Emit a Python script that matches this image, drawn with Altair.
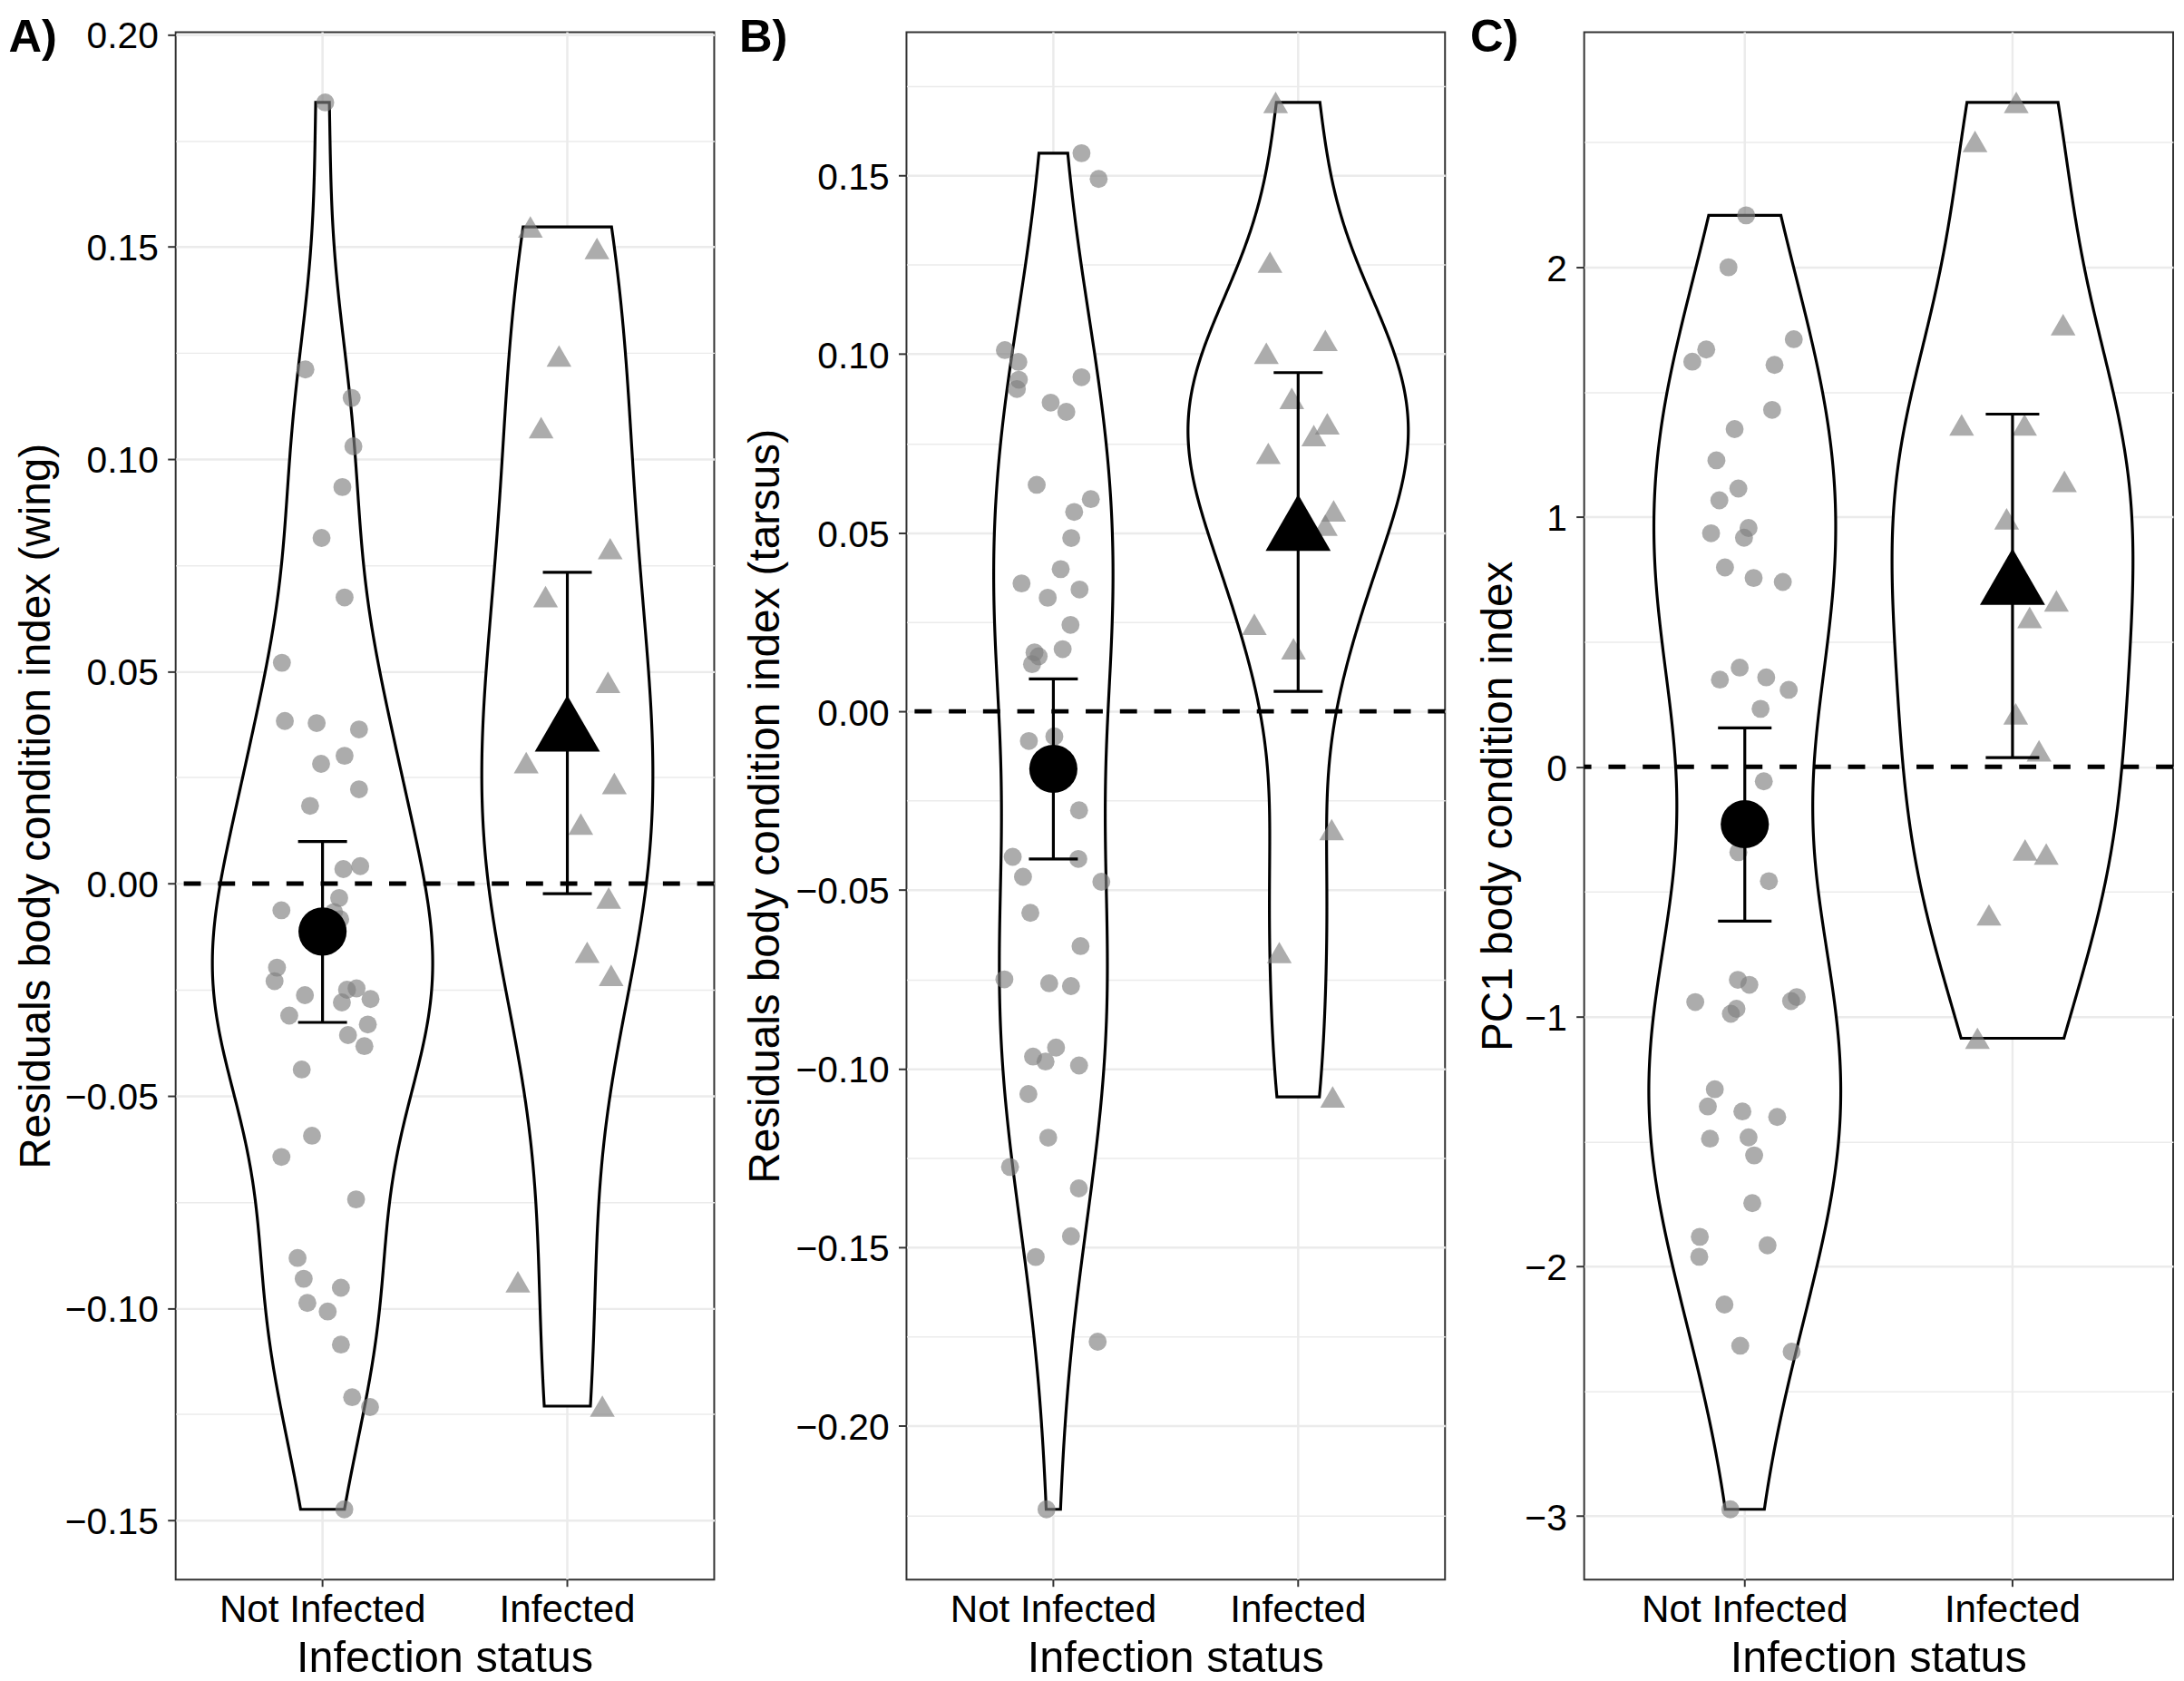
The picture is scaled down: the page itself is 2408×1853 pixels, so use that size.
import altair as alt
import pandas as pd

GROUPS = ["Not Infected", "Infected"]
POS = [1, 2]
XTITLE = "Infection status"

# ---------------- Panel A : wing ----------------
a_ni_val = [0.1840, 0.1211, 0.1144, 0.1030, 0.0934, 0.0814, 0.0674, 0.0520, 0.0383, 0.0378,
            0.0363, 0.0301, 0.0282, 0.0222, 0.0183, 0.0034, 0.0041, -0.0034, -0.0063, -0.0067,
            -0.0084, -0.0198, -0.0230, -0.0263, -0.0250, -0.0247, -0.0280, -0.0272, -0.0311, -0.0332,
            -0.0357, -0.0383, -0.0438, -0.0594, -0.0644, -0.0744, -0.0882, -0.0931, -0.0952, -0.0988,
            -0.1008, -0.1086, -0.1210, -0.1233, -0.1474]
a_ni_jit = [0.011, -0.070, 0.119, 0.126, 0.081, -0.004, 0.090, -0.166, -0.154, -0.024,
            0.149, 0.090, -0.006, 0.149, -0.051, 0.085, 0.154, 0.068, -0.168, 0.047,
            0.072, -0.186, -0.196, -0.072, 0.100, 0.139, 0.079, 0.196, -0.136, 0.185,
            0.104, 0.171, -0.085, -0.043, -0.168, 0.137, -0.102, -0.077, 0.075, -0.062,
            0.021, 0.075, 0.121, 0.194, 0.089]
a_in_val = [0.1547, 0.1496, 0.1243, 0.1074, 0.0789, 0.0676, 0.0474, 0.0285, 0.0236, 0.0140,
            -0.0034, -0.0162, -0.0216, -0.0938, -0.1231]
a_in_jit = [-0.151, 0.121, -0.034, -0.107, 0.175, -0.089, 0.166, -0.168, 0.192, 0.055,
            0.169, 0.081, 0.179, -0.202, 0.143]
a_mean = [-0.0113, 0.0355]
a_lo = [-0.0327, -0.0024]
a_hi = [0.0099, 0.0733]
a_major = [-0.15, -0.10, -0.05, 0.0, 0.05, 0.10, 0.15, 0.20]
a_minor = [-0.125, -0.075, -0.025, 0.025, 0.075, 0.125, 0.175]

# ---------------- Panel B : tarsus ----------------
b_ni_val = [0.1562, 0.1490, 0.1011, 0.0978, 0.0928, 0.0902, 0.0935, 0.0864, 0.0838, 0.0634,
            0.0594, 0.0558, 0.0485, 0.0398, 0.0358, 0.0341, 0.0318, 0.0242, 0.0165, 0.0154,
            0.0174, 0.0132, -0.0083, -0.0070, -0.0277, -0.0407, -0.0413, -0.0463, -0.0477, -0.0564,
            -0.0657, -0.0750, -0.0761, -0.0769, -0.0941, -0.0966, -0.0980, -0.0991, -0.1071, -0.1193,
            -0.1275, -0.1335, -0.1469, -0.1527, -0.1764, -0.2233]
b_ni_jit = [0.115, 0.185, -0.198, -0.143, -0.141, -0.149, 0.115, -0.011, 0.053, -0.068,
            0.153, 0.085, 0.073, 0.030, -0.130, 0.107, -0.023, 0.070, -0.077, -0.060,
            0.038, -0.087, -0.100, 0.004, 0.105, -0.166, 0.102, -0.124, 0.196, -0.094,
            0.111, -0.200, -0.017, 0.072, 0.011, -0.083, -0.032, 0.105, -0.102, -0.021,
            -0.177, 0.104, 0.072, -0.072, 0.181, -0.028]
b_in_val = [0.1704, 0.1257, 0.1002, 0.1038, 0.0876, 0.0805, 0.0772, 0.0722, 0.0561, 0.0521,
            0.0244, 0.0175, -0.0331, -0.0675, -0.1079]
b_in_jit = [-0.092, -0.115, -0.130, 0.111, -0.026, 0.119, 0.064, -0.122, 0.145, 0.111,
            -0.179, -0.019, 0.137, -0.077, 0.141]
b_mean = [-0.0161, 0.0502]
b_lo = [-0.0413, 0.0056]
b_hi = [0.0091, 0.0948]
b_major = [-0.20, -0.15, -0.10, -0.05, 0.0, 0.05, 0.10, 0.15]
b_minor = [-0.225, -0.175, -0.125, -0.075, -0.025, 0.025, 0.075, 0.125, 0.175]

# ---------------- Panel C : PC1 ----------------
c_ni_val = [2.208, 2.000, 1.671, 1.622, 1.712, 1.609, 1.429, 1.352, 1.227, 1.114,
            1.067, 0.956, 0.935, 0.917, 0.798, 0.756, 0.740, 0.397, 0.349, 0.358,
            0.308, 0.232, -0.058, -0.342, -0.458, -0.853, -0.873, -0.942, -0.922, -0.938,
            -0.969, -0.989, -1.291, -1.360, -1.380, -1.402, -1.489, -1.484, -1.556, -1.747,
            -1.882, -1.962, -1.916, -2.153, -2.318, -2.342, -2.973]
c_ni_jit = [0.005, -0.061, -0.144, -0.196, 0.183, 0.111, 0.102, -0.038, -0.106, -0.024,
            -0.095, 0.014, -0.126, -0.003, -0.074, 0.033, 0.142, -0.019, -0.093, 0.080,
            0.164, 0.059, 0.071, -0.024, 0.090, -0.026, 0.017, -0.185, 0.194, 0.173,
            -0.031, -0.052, -0.112, -0.138, -0.009, 0.121, -0.130, 0.014, 0.035, 0.028,
            -0.168, -0.170, 0.085, -0.076, -0.017, 0.175, -0.054]
c_in_val = [2.660, 2.504, 1.770, 1.369, 1.369, 1.143, 0.993, 0.664, 0.598, 0.212,
            0.064, -0.333, -0.349, -0.593, -1.087]
c_in_jit = [0.014, -0.140, 0.189, -0.190, 0.045, 0.194, -0.022, 0.164, 0.064, 0.012,
            0.099, 0.047, 0.126, -0.088, -0.131]
c_mean = [-0.230, 0.724]
c_lo = [-0.618, 0.037]
c_hi = [0.156, 1.412]
c_major = [-3, -2, -1, 0, 1, 2]
c_minor = [-2.5, -1.5, -0.5, 0.5, 1.5, 2.5]

PLOT_H = 1718
GRID = "#EBEBEB"
BORDER = "#333333"
FONT = "Liberation Sans"
PT_COLOR = "#7F7F7F"
LW = 3.2


def make_panel(ni_val, ni_jit, in_val, in_jit, means, los, his, ytitle, tag,
               major, minor, fmt, width, tag_x, title_x):
    pts = pd.DataFrame({
        "group": [GROUPS[0]] * len(ni_val) + [GROUPS[1]] * len(in_val),
        "pos": [POS[0]] * len(ni_val) + [POS[1]] * len(in_val),
        "jit": list(ni_jit) + list(in_jit),
        "val": list(ni_val) + list(in_val),
    })
    summ = pd.DataFrame({"group": GROUPS, "pos": POS, "mean": means, "lo": los, "hi": his})
    allv = list(ni_val) + list(in_val)
    vmin, vmax = min(allv), max(allv)
    r = vmax - vmin
    ysc = alt.Scale(domain=[vmin - 0.05 * r, vmax + 0.05 * r], nice=False, zero=False)
    xsc = alt.Scale(domain=[0.4, 2.6], nice=False, zero=False)

    minor_axis = alt.Axis(
        orient="left", values=minor, grid=True, gridColor=GRID, gridWidth=1.5,
        labels=False, ticks=False, domain=False, title=None,
    )
    main_axis = alt.Axis(
        orient="left", values=major, format=fmt, title=ytitle, grid=True, gridColor=GRID, gridWidth=2.5,
        tickSize=9, tickWidth=2, tickColor=BORDER, domain=False,
        labelFontSize=41, labelColor="black", labelPadding=10.5, labelOffset=3, labelFont=FONT,
        labelOverlap=False,
        titleFontSize=48, titleFontWeight="normal", titleColor="black", titleFont=FONT,
        titleX=title_x, titleY=PLOT_H / 2, titleAngle=270, titleAlign="center", titleBaseline="alphabetic",
    )

    sbase = alt.Chart(summ)

    # x "axis": category grid lines, ticks, labels and title
    xgrid = sbase.mark_rule(color=GRID, strokeWidth=2.5).encode(
        x=alt.X("pos:Q", scale=xsc, axis=None))
    xticks = sbase.mark_rule(color=BORDER, strokeWidth=2).encode(
        x=alt.X("pos:Q", scale=xsc, axis=None), y=alt.value(PLOT_H), y2=alt.value(PLOT_H + 8))
    xlabels = sbase.mark_text(font=FONT, fontSize=42.5, color="black", align="center",
                              baseline="alphabetic").encode(
        x=alt.X("pos:Q", scale=xsc, axis=None), y=alt.value(PLOT_H + 46.7), text="group:N")
    xtitle = (
        alt.Chart(alt.InlineData(values=[{"t": XTITLE}]))
        .mark_text(font=FONT, fontSize=49, color="black", align="center", baseline="alphabetic")
        .encode(x=alt.value(width / 2), y=alt.value(PLOT_H + 102), text="t:N")
    )

    violin = (
        alt.Chart(pts)
        .transform_joinaggregate(sd="stdev(val)", q1="q1(val)", q3="q3(val)", n="count()", groupby=["group"])
        .transform_calculate(bw="0.9 * min(datum.sd, (datum.q3 - datum.q1) / 1.34) * pow(datum.n, -0.2)")
        .transform_calculate(z="datum.val / datum.bw")
        .transform_density("z", groupby=["group", "pos", "bw"], bandwidth=1, steps=300,
                           resolve="independent", as_=["z", "dens"])
        .transform_calculate(v="datum.z * datum.bw")
        .transform_calculate(d="datum.dens / datum.bw")
        .transform_joinaggregate(maxd="max(d)")
        .transform_calculate(xl="datum.pos - 0.45 * datum.d / datum.maxd")
        .transform_calculate(xr="datum.pos + 0.45 * datum.d / datum.maxd")
        .mark_area(orient="horizontal", fill="white", stroke="black", strokeWidth=LW, opacity=1)
        .encode(
            y=alt.Y("v:Q", scale=ysc, axis=minor_axis),
            x=alt.X("xl:Q", scale=xsc, axis=None),
            x2="xr:Q",
            detail="group:N",
        )
    )

    zero = (
        alt.Chart(alt.InlineData(values=[{"k": 1}]))
        .mark_rule(color="black", strokeWidth=5, strokeDash=[19, 19])
        .encode(y=alt.YDatum(0, axis=None))
    )

    base_pts = alt.Chart(pts).transform_calculate(xj="datum.pos + datum.jit")
    pts_ni = (
        base_pts.transform_filter(alt.datum.pos == 1)
        .mark_point(shape="circle", filled=True, size=400, color=PT_COLOR, opacity=0.65)
        .encode(x=alt.X("xj:Q", scale=xsc, axis=None), y=alt.Y("val:Q", scale=ysc, axis=main_axis))
    )
    pts_in = (
        base_pts.transform_filter(alt.datum.pos == 2)
        .mark_point(shape="triangle-up", filled=True, size=760, color=PT_COLOR, opacity=0.65)
        .encode(x=alt.X("xj:Q", scale=xsc, axis=None), y=alt.Y("val:Q", scale=ysc, axis=None))
    )

    ebar = sbase.mark_rule(color="black", strokeWidth=LW).encode(
        x=alt.X("pos:Q", scale=xsc, axis=None), y=alt.Y("lo:Q", axis=None), y2="hi:Q")
    caps = sbase.transform_calculate(c1="datum.pos - 0.1", c2="datum.pos + 0.1")
    cap_lo = caps.mark_rule(color="black", strokeWidth=LW).encode(
        x=alt.X("c1:Q", scale=xsc, axis=None), x2="c2:Q", y=alt.Y("lo:Q", axis=None))
    cap_hi = caps.mark_rule(color="black", strokeWidth=LW).encode(
        x=alt.X("c1:Q", scale=xsc, axis=None), x2="c2:Q", y=alt.Y("hi:Q", axis=None))
    mean_ni = (
        sbase.transform_filter(alt.datum.pos == 1)
        .mark_point(shape="circle", filled=True, size=2862, color="black", opacity=1)
        .encode(x=alt.X("pos:Q", scale=xsc, axis=None), y=alt.Y("mean:Q", axis=None))
    )
    mean_in = (
        sbase.transform_filter(alt.datum.pos == 2)
        .mark_point(shape="triangle-up", filled=True, size=5227, color="black", opacity=1, yOffset=-10.4)
        .encode(x=alt.X("pos:Q", scale=xsc, axis=None), y=alt.Y("mean:Q", axis=None))
    )

    tag_layer = (
        alt.Chart(alt.InlineData(values=[{"t": tag}]))
        .mark_text(align="left", baseline="alphabetic", font=FONT, fontSize=51, fontWeight="bold", color="black")
        .encode(x=alt.value(tag_x), y=alt.value(21.3), text="t:N")
    )

    return (
        alt.layer(xgrid, violin, zero, pts_ni, pts_in, ebar, cap_lo, cap_hi, mean_ni, mean_in,
                  xticks, xlabels, xtitle, tag_layer)
        .resolve_axis(y="independent")
        .properties(width=width, height=PLOT_H)
    )


pa = make_panel(a_ni_val, a_ni_jit, a_in_val, a_in_jit, a_mean, a_lo, a_hi,
                "Residuals body condition index (wing)", "A)", a_major, a_minor, ".2f",
                598, -185.5, -139.9)
pb = make_panel(b_ni_val, b_ni_jit, b_in_val, b_in_jit, b_mean, b_lo, b_hi,
                "Residuals body condition index (tarsus)", "B)", b_major, b_minor, ".2f",
                598, -185.7, -141.7)
pc = make_panel(c_ni_val, c_ni_jit, c_in_val, c_in_jit, c_mean, c_lo, c_hi,
                "PC1 body condition index", "C)", c_major, c_minor, "d",
                654, -126.6, -81.2)

chart = (
    alt.hconcat(pa, pb, pc, spacing=22.5)
    .properties(padding=0, background="white")
    .configure_view(stroke=BORDER, strokeWidth=2)
)

chart.save("out.html", embed_options={"renderer": "svg", "actions": False})
